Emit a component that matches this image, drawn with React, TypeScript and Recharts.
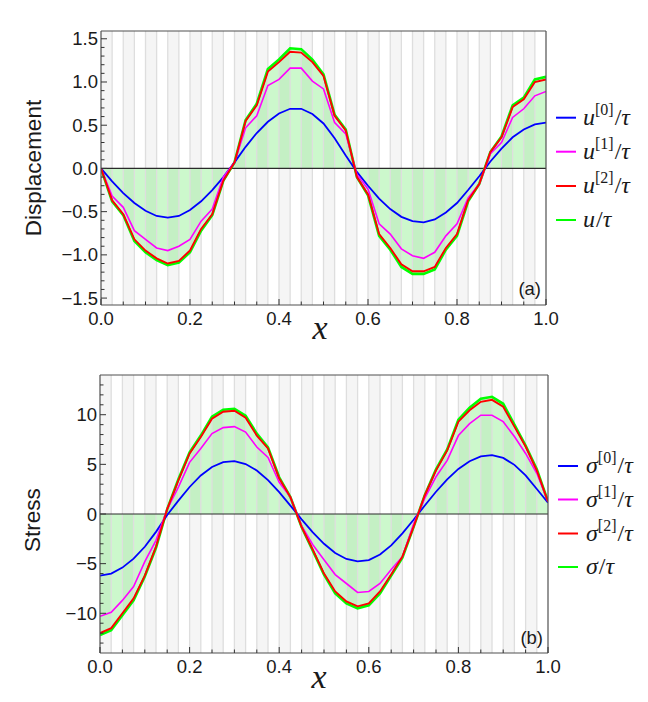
import React from 'react';
import { ComposedChart, Line, Area, XAxis, YAxis, ReferenceArea, ReferenceLine } from 'recharts';

// layer interfaces / sample positions
const xs = [0, 0.025, 0.05, 0.075, 0.1, 0.125, 0.15, 0.175, 0.2, 0.225, 0.25, 0.275, 0.3, 0.325, 0.35, 0.375, 0.4, 0.425, 0.45, 0.475, 0.5, 0.525, 0.55, 0.575, 0.6, 0.625, 0.65, 0.675, 0.7, 0.725, 0.75, 0.775, 0.8, 0.825, 0.85, 0.875, 0.9, 0.925, 0.95, 0.975, 1];

// Displacement (a)
const u0 = [0, -0.15, -0.285, -0.4, -0.49, -0.55, -0.57, -0.55, -0.48, -0.38, -0.25, -0.1, 0.07, 0.25, 0.41, 0.54, 0.635, 0.69, 0.69, 0.63, 0.52, 0.35, 0.15, -0.04, -0.2, -0.35, -0.47, -0.56, -0.61, -0.625, -0.59, -0.51, -0.4, -0.25, -0.09, 0.08, 0.23, 0.36, 0.45, 0.51, 0.53];
const u1 = [0, -0.32, -0.45, -0.72, -0.82, -0.92, -0.95, -0.9, -0.82, -0.61, -0.47, -0.1, 0.07, 0.47, 0.61, 0.96, 1.03, 1.16, 1.16, 1.01, 0.92, 0.53, 0.4, -0.07, -0.24, -0.64, -0.76, -0.93, -1.01, -1.04, -0.97, -0.78, -0.64, -0.34, -0.18, 0.17, 0.3, 0.59, 0.69, 0.84, 0.89];
const u2 = [0, -0.37, -0.53, -0.82, -0.95, -1.04, -1.1, -1.07, -0.95, -0.7, -0.53, -0.14, 0.07, 0.55, 0.73, 1.12, 1.23, 1.35, 1.34, 1.23, 1.07, 0.61, 0.44, -0.1, -0.3, -0.76, -0.92, -1.11, -1.19, -1.19, -1.14, -0.92, -0.76, -0.37, -0.18, 0.19, 0.36, 0.71, 0.8, 1.0, 1.03];
const uT = [0, -0.38, -0.54, -0.84, -0.97, -1.06, -1.12, -1.09, -0.97, -0.72, -0.54, -0.14, 0.07, 0.56, 0.75, 1.15, 1.26, 1.39, 1.38, 1.26, 1.09, 0.62, 0.45, -0.1, -0.31, -0.78, -0.94, -1.14, -1.22, -1.22, -1.17, -0.94, -0.78, -0.38, -0.18, 0.19, 0.37, 0.73, 0.82, 1.03, 1.06];

// Stress (b)
const s0 = [-6.2, -6.0, -5.4, -4.5, -3.3, -1.8, -0.1, 1.35, 2.72, 3.88, 4.74, 5.23, 5.33, 5.03, 4.38, 3.42, 2.2, 0.85, -0.54, -1.85, -3.0, -3.93, -4.53, -4.78, -4.64, -4.08, -3.16, -1.95, -0.58, 0.86, 2.24, 3.49, 4.54, 5.32, 5.8, 5.93, 5.65, 4.95, 3.89, 2.52, 1.14];
const s1 = [-10.3, -9.9, -8.7, -7.3, -4.8, -2.65, 0.5, 2.7, 5.2, 6.6, 8.1, 8.7, 8.8, 8.25, 6.75, 5.7, 3.2, 1.7, -1.2, -3.1, -4.6, -6.1, -7.0, -7.9, -7.8, -7.0, -5.6, -4.3, -1.0, 1.6, 3.75, 5.4, 7.9, 9.1, 9.95, 9.95, 9.3, 7.8, 6.1, 4.1, 1.24];
const s2 = [-12.0, -11.5, -10.0, -8.5, -6.2, -3.3, 0.5, 3.4, 6.1, 7.75, 9.6, 10.3, 10.4, 9.7, 7.9, 6.6, 3.6, 1.7, -1.3, -3.6, -6.0, -7.8, -8.8, -9.3, -9.0, -7.8, -6.1, -4.3, -1.3, 1.9, 4.4, 6.4, 9.3, 10.45, 11.3, 11.5, 10.8, 8.8, 6.8, 4.4, 1.24];
const sT = [-12.2, -11.7, -10.2, -8.7, -6.3, -3.4, 0.5, 3.5, 6.2, 7.9, 9.8, 10.5, 10.6, 9.9, 8.1, 6.7, 3.7, 1.7, -1.3, -3.7, -6.1, -8.0, -9.0, -9.5, -9.2, -8.0, -6.2, -4.4, -1.3, 1.9, 4.5, 6.5, 9.5, 10.7, 11.6, 11.8, 11.1, 9.0, 6.9, 4.5, 1.25];

// ticks
const xTicksAll = [0, 0.05, 0.1, 0.15, 0.2, 0.25, 0.3, 0.35, 0.4, 0.45, 0.5, 0.55, 0.6, 0.65, 0.7, 0.75, 0.8, 0.85, 0.9, 0.95, 1];
const xMajor = [0, 0.2, 0.4, 0.6, 0.8, 1];
const xMajorLabels = ['0.0', '0.2', '0.4', '0.6', '0.8', '1.0'];

const yATicksAll = [-1.5, -1.4, -1.3, -1.2, -1.1, -1.0, -0.9, -0.8, -0.7, -0.6, -0.5, -0.4, -0.3, -0.2, -0.1, 0, 0.1, 0.2, 0.3, 0.4, 0.5, 0.6, 0.7, 0.8, 0.9, 1.0, 1.1, 1.2, 1.3, 1.4, 1.5];
const yAMajor = [-1.5, -1, -0.5, 0, 0.5, 1, 1.5];
const yAMajorLabels = ['\u22121.5', '\u22121.0', '\u22120.5', '0.0', '0.5', '1.0', '1.5'];

const yBTicksAll = [-13, -12, -11, -10, -9, -8, -7, -6, -5, -4, -3, -2, -1, 0, 1, 2, 3, 4, 5, 6, 7, 8, 9, 10, 11, 12, 13];
const yBMajor = [-10, -5, 0, 5, 10];
const yBMajorLabels = ['\u221210', '\u22125', '0', '5', '10'];

const seriesA = [
  { key: 'u0', color: '#0000ff', base: 'u', sup: '[0]', width: 1.8 },
  { key: 'u1', color: '#ff00ff', base: 'u', sup: '[1]', width: 1.6 },
  { key: 'u2', color: '#ff0000', base: 'u', sup: '[2]', width: 1.9 },
  { key: 'uT', color: '#00ff00', base: 'u', sup: '', width: 2.6 },
];
const seriesB = [
  { key: 's0', color: '#0000ff', base: '\u03c3', sup: '[0]', width: 1.8 },
  { key: 's1', color: '#ff00ff', base: '\u03c3', sup: '[1]', width: 1.6 },
  { key: 's2', color: '#ff0000', base: '\u03c3', sup: '[2]', width: 1.9 },
  { key: 'sT', color: '#00ff00', base: '\u03c3', sup: '', width: 2.6 },
];

const dataA = xs.map((x, i) => ({ x, u0: u0[i], u1: u1[i], u2: u2[i], uT: uT[i] }));
const dataB = xs.map((x, i) => ({ x, s0: s0[i], s1: s1[i], s2: s2[i], sT: sT[i] }));

const TM = 4;
const SANS = 'Liberation Sans';
const SERIF = 'Liberation Serif';
const TICK = '#333';
const FRAME = '#505050';

function findMajor(v: number, majors: number[]) {
  return majors.findIndex((m) => Math.abs(m - v) < 1e-6);
}

function makeXTick(majors: number[], labels: string[]) {
  return (props: any) => {
    const { x, y, payload } = props;
    const idx = findMajor(payload.value, majors);
    const ay = y - TM;
    return (
      <g>
        <line x1={x} x2={x} y1={ay} y2={ay - (idx >= 0 ? 6 : 3.5)} stroke={TICK} strokeWidth={1} />
        {idx >= 0 && (
          <text x={x} y={ay + 20} textAnchor="middle" style={{ fontFamily: SANS, fontSize: 18.5 }} fill="#1a1a1a">
            {labels[idx]}
          </text>
        )}
      </g>
    );
  };
}

function makeYTick(majors: number[], labels: string[]) {
  return (props: any) => {
    const { x, y, payload } = props;
    const idx = findMajor(payload.value, majors);
    const ax = x + TM;
    return (
      <g>
        <line x1={ax} x2={ax + (idx >= 0 ? 6 : 3.5)} y1={y} y2={y} stroke={TICK} strokeWidth={1} />
        {idx >= 0 && (
          <text x={ax - 3} y={y + 6.5} textAnchor="end" style={{ fontFamily: SANS, fontSize: 18.5 }} fill="#1a1a1a">
            {labels[idx]}
          </text>
        )}
      </g>
    );
  };
}

function Panel(props: {
  data: any[];
  series: typeof seriesA;
  fillKey: string;
  domain: [number, number];
  yTicks: number[];
  yMajor: number[];
  yLabels: string[];
  height: number;
  margin: { top: number; right: number; bottom: number; left: number };
  yWidth: number;
}) {
  const { data, series, fillKey, domain, yTicks, yMajor, yLabels, height, margin, yWidth } = props;
  const stripes = xs.slice(0, -1).map((x, i) => ({ x1: x, x2: xs[i + 1], gray: i % 2 === 0 }));
  const lineOrder = [series[3], series[0], series[1], series[2]];
  return (
    <ComposedChart width={648} height={height} data={data} margin={margin}>
      <XAxis
        dataKey="x"
        type="number"
        domain={[0, 1]}
        ticks={xTicksAll}
        interval={0}
        tickSize={0}
        tickMargin={TM}
        tickLine={false}
        axisLine={{ stroke: FRAME, strokeWidth: 1.2 }}
        tick={makeXTick(xMajor, xMajorLabels)}
        height={30}
        allowDataOverflow
      />
      <YAxis
        type="number"
        domain={domain}
        ticks={yTicks}
        interval={0}
        tickSize={0}
        tickMargin={TM}
        tickLine={false}
        axisLine={{ stroke: FRAME, strokeWidth: 1.2 }}
        tick={makeYTick(yMajor, yLabels)}
        width={yWidth}
        allowDataOverflow
      />
      {stripes
        .filter((s) => s.gray)
        .map((s, i) => (
          <ReferenceArea key={'st' + i} x1={s.x1} x2={s.x2} fill="#f5f5f5" fillOpacity={1} stroke="none" ifOverflow="hidden" />
        ))}
      {xs.slice(1, -1).map((x, i) => (
        <ReferenceLine key={'il' + i} x={x} stroke="#dedede" strokeWidth={1.3} />
      ))}
      <Area
        dataKey={fillKey}
        type="linear"
        baseValue={0}
        stroke="none"
        fill="#00dd00"
        fillOpacity={0.2}
        isAnimationActive={false}
        dot={false}
        activeDot={false}
      />
      <ReferenceLine y={0} stroke="#2a2a2a" strokeWidth={1.2} />
      {lineOrder.map((s) => (
        <Line
          key={s.key}
          dataKey={s.key}
          type="linear"
          stroke={s.color}
          strokeWidth={s.width}
          dot={false}
          activeDot={false}
          isAnimationActive={false}
        />
      ))}
      <ReferenceLine y={domain[1]} stroke={FRAME} strokeWidth={1.2} />
      <ReferenceLine x={1} stroke={FRAME} strokeWidth={1.2} />
    </ComposedChart>
  );
}

function LegendRows(props: { series: typeof seriesA; x: number; ys: number[]; textX: number }) {
  const { series, x, ys, textX } = props;
  return (
    <g>
      {series.map((s, i) => (
        <g key={s.key}>
          <line x1={x} x2={x + 20} y1={ys[i]} y2={ys[i]} stroke={s.color} strokeWidth={2} />
          <text x={textX} y={ys[i] + 7} style={{ fontFamily: SERIF, fontSize: 24 }} fill="#1a1a1a">
            <tspan style={{ fontStyle: 'italic' }}>{s.base}</tspan>
            {s.sup && (
              <tspan style={{ fontSize: 16 }} dy={-10}>
                {s.sup}
              </tspan>
            )}
            <tspan dy={s.sup ? 10 : 0} dx={1}>/</tspan>
            <tspan style={{ fontStyle: 'italic' }}>{'\u03c4'}</tspan>
          </text>
        </g>
      ))}
    </g>
  );
}

export default function App() {
  return (
    <div style={{ position: 'absolute', left: 0, top: 0, width: 648, height: 702, background: '#fff', overflow: 'hidden' }}>
      <div style={{ position: 'absolute', left: 0, top: 0 }}>
        <Panel
          data={dataA}
          series={seriesA}
          fillKey="uT"
          domain={[-1.58, 1.59]}
          yTicks={yATicksAll}
          yMajor={yAMajor}
          yLabels={yAMajorLabels}
          height={350}
          margin={{ top: 31, right: 102, bottom: 15, left: 0 }}
          yWidth={101}
        />
      </div>
      <div style={{ position: 'absolute', left: 0, top: 350 }}>
        <Panel
          data={dataB}
          series={seriesB}
          fillKey="sT"
          domain={[-14, 14]}
          yTicks={yBTicksAll}
          yMajor={yBMajor}
          yLabels={yBMajorLabels}
          height={352}
          margin={{ top: 25, right: 100, bottom: 19, left: 0 }}
          yWidth={100}
        />
      </div>
      <svg width={648} height={702} style={{ position: 'absolute', left: 0, top: 0, pointerEvents: 'none' }}>
        <text x={33} y={168} transform="rotate(-90 33 168)" textAnchor="middle" dominantBaseline="central" style={{ fontFamily: SANS, fontSize: 22.5 }} fill="#1a1a1a">
          Displacement
        </text>
        <text x={32} y={520} transform="rotate(-90 32 520)" textAnchor="middle" dominantBaseline="central" style={{ fontFamily: SANS, fontSize: 22.5 }} fill="#1a1a1a">
          Stress
        </text>
        <text x={320} y={339} textAnchor="middle" style={{ fontFamily: SERIF, fontStyle: 'italic', fontSize: 34 }} fill="#1a1a1a">x</text>
        <text x={319} y={688} textAnchor="middle" style={{ fontFamily: SERIF, fontStyle: 'italic', fontSize: 34 }} fill="#1a1a1a">x</text>
        <text x={541} y={295} textAnchor="end" style={{ fontFamily: SANS, fontSize: 18.5 }} fill="#1a1a1a">(a)</text>
        <text x={543} y={644} textAnchor="end" style={{ fontFamily: SANS, fontSize: 18.5 }} fill="#1a1a1a">(b)</text>
        <LegendRows series={seriesA} x={556} ys={[117.7, 151.7, 186, 220]} textX={583} />
        <LegendRows series={seriesB} x={558} ys={[466, 499.5, 533.5, 567]} textX={586} />
      </svg>
    </div>
  );
}
